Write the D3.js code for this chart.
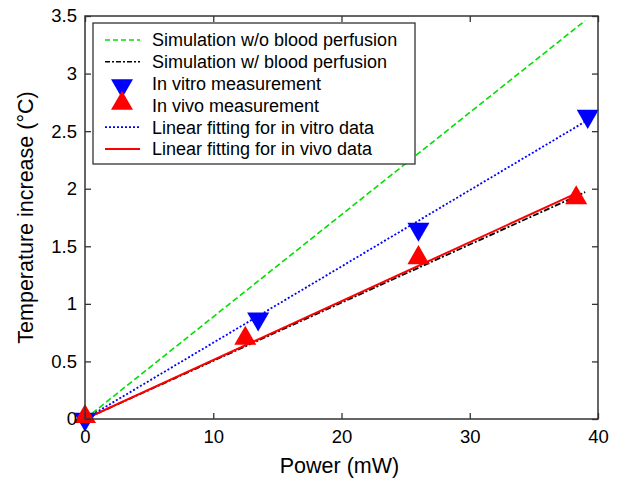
<!DOCTYPE html>
<html>
<head>
<meta charset="utf-8">
<script src="https://cdn.jsdelivr.net/npm/d3@7"></script>
<style>
  body { margin: 0; background: #fff; }
  text { font-family: "Liberation Sans", Arial, sans-serif; fill: #000; }
</style>
</head>
<body>
<svg id="chart" width="621" height="480"></svg>
<script>
// Data
const simNoPerfusionX = [0, 39];
const simNoPerfusionY = [0, 3.46];
const simPerfusionX = [0, 39];
const simPerfusionY = [0, 1.97];
const vitroX = [0, 13.5, 26, 39.2];
const vitroY = [0, 0.87, 1.65, 2.63];
const vivoX = [0, 12.5, 26, 38.3];
const vivoY = [0.02, 0.70, 1.40, 1.92];
const fitVitroX = [0, 39.1];
const fitVitroY = [0, 2.59];
const fitVivoX = [0, 38.3];
const fitVivoY = [0, 1.96];
const xTicks = [0, 10, 20, 30, 40];
const yTicks = [0, 0.5, 1, 1.5, 2, 2.5, 3, 3.5];

const legendLabels = [
  'Simulation w/o blood perfusion',
  'Simulation w/ blood perfusion',
  'In vitro measurement',
  'In vivo measurement',
  'Linear fitting for in vitro data',
  'Linear fitting for in vivo data'
];

const svg = d3.select('#chart');
const plotLeft = 85, plotRight = 598, plotTop = 16, plotBottom = 419;

const x = d3.scaleLinear().domain([0, 40]).range([plotLeft, plotRight]);
const y = d3.scaleLinear().domain([0, 3.5]).range([plotBottom, plotTop]);

const zip = (xs, ys) => xs.map((v, i) => [v, ys[i]]);
const line = d3.line().x(d => x(d[0])).y(d => y(d[1]));

// lines
const lines = [
  { d: zip(simNoPerfusionX, simNoPerfusionY), color: '#00e000', dash: '6,3', w: 1.6 },
  { d: zip(simPerfusionX, simPerfusionY), color: '#000', dash: '6,2,2,2', w: 1.8 },
  { d: zip(fitVitroX, fitVitroY), color: '#0000ff', dash: '2,2', w: 1.8 },
  { d: zip(fitVivoX, fitVivoY), color: '#ff0000', dash: null, w: 2 }
];
lines.forEach(l => {
  svg.append('path')
    .datum(l.d)
    .attr('d', line)
    .style('fill', 'none')
    .style('stroke', l.color)
    .style('stroke-width', l.w)
    .style('stroke-dasharray', l.dash);
});

// triangle markers
const tri = d3.symbol().type(d3.symbolTriangle).size(210);
svg.append('g').selectAll('path')
  .data(zip(vitroX, vitroY))
  .join('path')
  .attr('d', tri)
  .attr('transform', d => `translate(${x(d[0])},${y(d[1])}) rotate(180)`)
  .style('fill', '#0000ff');

svg.append('g').selectAll('path')
  .data(zip(vivoX, vivoY))
  .join('path')
  .attr('d', tri)
  .attr('transform', d => `translate(${x(d[0])},${y(d[1])})`)
  .style('fill', '#ff0000');

// axes box with inward ticks
const axisStyle = g => {
  g.select('.domain').remove();
  g.selectAll('line').style('stroke', '#333').style('stroke-width', 1.3);
  g.selectAll('text').style('font-size', '18.5px');
};
svg.append('g')
  .attr('transform', `translate(0,${plotBottom})`)
  .call(d3.axisBottom(x).tickValues(xTicks).tickSizeInner(-6).tickSizeOuter(0).tickPadding(11).tickFormat(d3.format('d')))
  .call(axisStyle);
svg.append('g')
  .attr('transform', `translate(0,${plotTop})`)
  .call(d3.axisTop(x).tickValues(xTicks).tickSizeInner(-6).tickSizeOuter(0).tickFormat(''))
  .call(axisStyle);
svg.append('g')
  .attr('transform', `translate(${plotLeft},0)`)
  .call(d3.axisLeft(y).tickValues(yTicks).tickSizeInner(-6).tickSizeOuter(0).tickPadding(8).tickFormat(d => d))
  .call(axisStyle);
svg.append('g')
  .attr('transform', `translate(${plotRight},0)`)
  .call(d3.axisRight(y).tickValues(yTicks).tickSizeInner(-6).tickSizeOuter(0).tickFormat(''))
  .call(axisStyle);

svg.append('rect')
  .attr('x', plotLeft).attr('y', plotTop)
  .attr('width', plotRight - plotLeft).attr('height', plotBottom - plotTop)
  .style('fill', 'none').style('stroke', '#333').style('stroke-width', 1.5);

// axis labels
svg.append('text')
  .attr('x', (plotLeft + plotRight) / 2 - 2).attr('y', 473)
  .style('text-anchor', 'middle').style('font-size', '21.5px')
  .text('Power (mW)');
svg.append('text')
  .attr('transform', `translate(33,${(plotTop + plotBottom) / 2}) rotate(-90)`)
  .style('text-anchor', 'middle').style('font-size', '21.5px')
  .text('Temperature increase (\u00B0C)');

// legend
const lg = svg.append('g');
lg.append('rect')
  .attr('x', 93).attr('y', 23).attr('width', 322).attr('height', 141)
  .style('fill', '#fff').style('stroke', '#333').style('stroke-width', 1.3);
const rowY = i => 40 + i * 21.8;
const keys = [
  { type: 'line', color: '#00e000', dash: '5,3', w: 1.6 },
  { type: 'line', color: '#000', dash: '5,2,2,2', w: 1.6 },
  { type: 'down', color: '#0000ff' },
  { type: 'up', color: '#ff0000' },
  { type: 'line', color: '#0000ff', dash: '2,2', w: 1.8 },
  { type: 'line', color: '#ff0000', dash: null, w: 2 }
];
keys.forEach((k, i) => {
  const cy = rowY(i);
  if (k.type === 'line') {
    lg.append('line')
      .attr('x1', 105).attr('x2', 140).attr('y1', cy).attr('y2', cy)
      .style('stroke', k.color).style('stroke-width', k.w)
      .style('stroke-dasharray', k.dash);
  } else {
    lg.append('path')
      .attr('d', tri)
      .attr('transform', k.type === 'down' ? `translate(122,${cy + 2}) rotate(180)` : `translate(122,${cy - 2})`)
      .style('fill', k.color);
  }
  lg.append('text')
    .attr('x', 152).attr('y', cy)
    .attr('dy', '0.35em')
    .style('font-size', '18px')
    .text(legendLabels[i]);
});
</script>
</body>
</html>
